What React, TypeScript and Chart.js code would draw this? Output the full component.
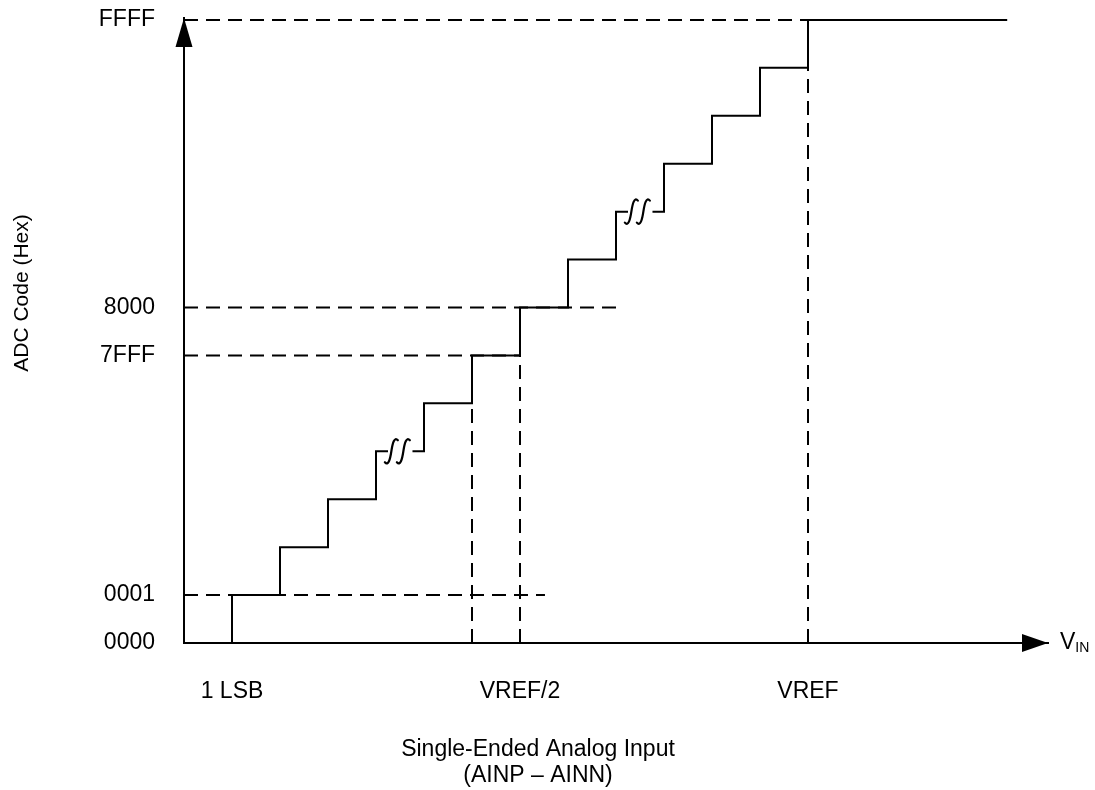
import React, { useEffect, useRef } from "react";
import { Chart, registerables } from "chart.js";

Chart.register(...registerables);

const FONT = '"Liberation Sans", Arial, Helvetica, sans-serif';
const FONT_SIZE = 23;
const Y_TITLE_SIZE = 21;

// Axis tick positions (input in LSB-step units, output in code-step units) and labels
const Y_TICK_VALUES = [0, 1, 6, 7, 13];
const Y_TICK_LABELS = ["0000", "0001", "7FFF", "8000", "FFFF"];
const X_TICK_VALUES = [1, 7, 13];
const X_TICK_LABELS = ["1 LSB", "VREF/2", "VREF"];

// Staircase transfer function: input position of each code transition and the code reached
const RISER_X = [1, 2, 3, 4, 5, 6, 7, 8, 9, 10, 11, 12, 13];
const CODE_LEVEL = [1, 2, 3, 4, 5, 6, 7, 8, 9, 10, 11, 12, 13];
const BREAK_AFTER = [4, 9];
const STAIR_END_X = 17.15;

// Dashed reference lines
const REF_H_CODE = [13, 7, 6, 1];
const REF_H_END = [13, 9, 7, 7.52];
const REF_V_X = [6, 7, 13];
const REF_V_TOP = [6, 7, 13];

const X_MIN = 0;
const X_MAX = 18;
const Y_MIN = 0;
const Y_MAX = 13.04;

const X_TITLE = ["Single-Ended Analog Input", "(AINP – AINN)"];
const Y_TITLE = "ADC Code (Hex)";

function buildStairs() {
  const pts: { x: number; y: number | null }[] = [];
  let prev = 0;
  RISER_X.forEach((rx, i) => {
    pts.push({ x: rx, y: prev });
    pts.push({ x: rx, y: CODE_LEVEL[i] });
    prev = CODE_LEVEL[i];
    if (BREAK_AFTER.includes(rx)) {
      pts.push({ x: rx + 0.25, y: prev });
      pts.push({ x: rx + 0.5, y: null });
      pts.push({ x: rx + 0.76, y: prev });
    }
  });
  pts.push({ x: STAIR_END_X, y: prev });
  return pts;
}

const decorPlugin = {
  id: "decor",
  afterDraw(chart: any) {
    const ctx = chart.ctx as CanvasRenderingContext2D;
    const xs = chart.scales.x;
    const ys = chart.scales.y;
    const ca = chart.chartArea;
    ctx.save();
    ctx.fillStyle = "#000";
    ctx.strokeStyle = "#000";

    // y-axis arrow head
    const ax = ca.left;
    const top = ca.top;
    ctx.beginPath();
    ctx.moveTo(ax, top);
    ctx.lineTo(ax - 8.5, top + 29);
    ctx.lineTo(ax + 8.5, top + 29);
    ctx.closePath();
    ctx.fill();

    // x-axis arrow head
    const ay = ca.bottom;
    const right = ca.right;
    ctx.beginPath();
    ctx.moveTo(right, ay);
    ctx.lineTo(right - 26, ay - 9);
    ctx.lineTo(right - 26, ay + 9);
    ctx.closePath();
    ctx.fill();

    // break squiggles
    ctx.lineWidth = 2.2;
    ctx.lineCap = "round";
    BREAK_AFTER.forEach((rx) => {
      const lvl = CODE_LEVEL[RISER_X.indexOf(rx)];
      const cy = ys.getPixelForValue(lvl);
      [0.32, 0.57].forEach((off) => {
        const cx = xs.getPixelForValue(rx + off);
        ctx.beginPath();
        ctx.moveTo(cx - 6.5, cy + 11);
        ctx.bezierCurveTo(cx - 3, cy + 15, cx - 1.2, cy + 8, cx, cy);
        ctx.bezierCurveTo(cx + 1.2, cy - 8, cx + 3, cy - 15, cx + 6.5, cy - 11);
        ctx.stroke();
      });
    });

    // V_IN label
    ctx.textBaseline = "middle";
    ctx.textAlign = "left";
    ctx.font = `${FONT_SIZE}px ${FONT}`;
    ctx.fillText("V", right + 12, ay);
    const vw = ctx.measureText("V").width;
    ctx.font = `14px ${FONT}`;
    ctx.fillText("IN", right + 12 + vw, ay + 5);

    // x title
    ctx.font = `${FONT_SIZE}px ${FONT}`;
    ctx.textAlign = "center";
    ctx.fillText(X_TITLE[0], 538, 750);
    ctx.fillText(X_TITLE[1], 538, 776);

    // y title
    ctx.save();
    ctx.font = `${Y_TITLE_SIZE}px ${FONT}`;
    ctx.translate(22, 293);
    ctx.rotate(-Math.PI / 2);
    ctx.fillText(Y_TITLE, 0, 0);
    ctx.restore();

    ctx.restore();
  },
};

export default function App() {
  const ref = useRef<HTMLCanvasElement | null>(null);

  useEffect(() => {
    document.body.style.margin = "0";
    const canvas = ref.current;
    if (!canvas) return;

    const dashed = {
      borderColor: "#000",
      borderWidth: 2,
      borderDash: [14, 8],
      pointRadius: 0,
      fill: false,
      tension: 0,
      borderCapStyle: "butt",
    };

    const datasets: any[] = [];
    REF_H_CODE.forEach((c, i) => {
      datasets.push({
        ...dashed,
        label: "ref-h-" + i,
        data: [
          { x: X_MIN, y: c },
          { x: REF_H_END[i], y: c },
        ],
      });
    });
    REF_V_X.forEach((vx, i) => {
      datasets.push({
        ...dashed,
        label: "ref-v-" + i,
        data: [
          { x: vx, y: Y_MIN },
          { x: vx, y: REF_V_TOP[i] },
        ],
      });
    });
    datasets.push({
      label: "transfer",
      data: buildStairs(),
      borderColor: "#000",
      borderWidth: 2,
      pointRadius: 0,
      fill: false,
      tension: 0,
      spanGaps: false,
      borderJoinStyle: "miter",
      borderCapStyle: "butt",
    });

    const tickFont = { family: FONT, size: FONT_SIZE };

    const chart = new Chart(canvas, {
      type: "line",
      data: { datasets },
      options: {
        animation: false,
        responsive: false,
        devicePixelRatio: 1,
        parsing: true,
        layout: { padding: { top: 18, right: 47, left: 0, bottom: 0 } },
        plugins: {
          legend: { display: false },
          tooltip: { enabled: false },
          title: { display: false },
        },
        scales: {
          x: {
            type: "linear",
            min: X_MIN,
            max: X_MAX,
            grid: { display: false, drawTicks: false },
            border: { display: true, color: "#000", width: 2 },
            ticks: {
              color: "#000",
              font: tickFont,
              padding: 35,
              autoSkip: false,
              maxRotation: 0,
              callback: (v: any) => {
                const i = X_TICK_VALUES.indexOf(Number(v));
                return i >= 0 ? X_TICK_LABELS[i] : "";
              },
            },
            afterBuildTicks: (s: any) => {
              s.ticks = X_TICK_VALUES.map((v) => ({ value: v }));
            },
            afterFit: (s: any) => {
              s.height = 147;
              s.paddingLeft = 0;
              s.paddingRight = 0;
            },
          },
          y: {
            type: "linear",
            min: Y_MIN,
            max: Y_MAX,
            grid: { display: false, drawTicks: false },
            border: { display: true, color: "#000", width: 2 },
            ticks: {
              color: "#000",
              font: tickFont,
              padding: 29,
              autoSkip: false,
              callback: (v: any) => {
                const i = Y_TICK_VALUES.indexOf(Number(v));
                return i >= 0 ? Y_TICK_LABELS[i] : "";
              },
            },
            afterBuildTicks: (s: any) => {
              s.ticks = Y_TICK_VALUES.map((v) => ({ value: v }));
            },
            afterFit: (s: any) => {
              s.width = 184;
              s.paddingTop = 0;
              s.paddingBottom = 0;
            },
          },
        },
      },
      plugins: [decorPlugin],
    } as any);

    return () => chart.destroy();
  }, []);

  return (
    <div style={{ width: 1095, height: 790, background: "#fff" }}>
      <canvas ref={ref} width={1095} height={790} style={{ display: "block" }} />
    </div>
  );
}
